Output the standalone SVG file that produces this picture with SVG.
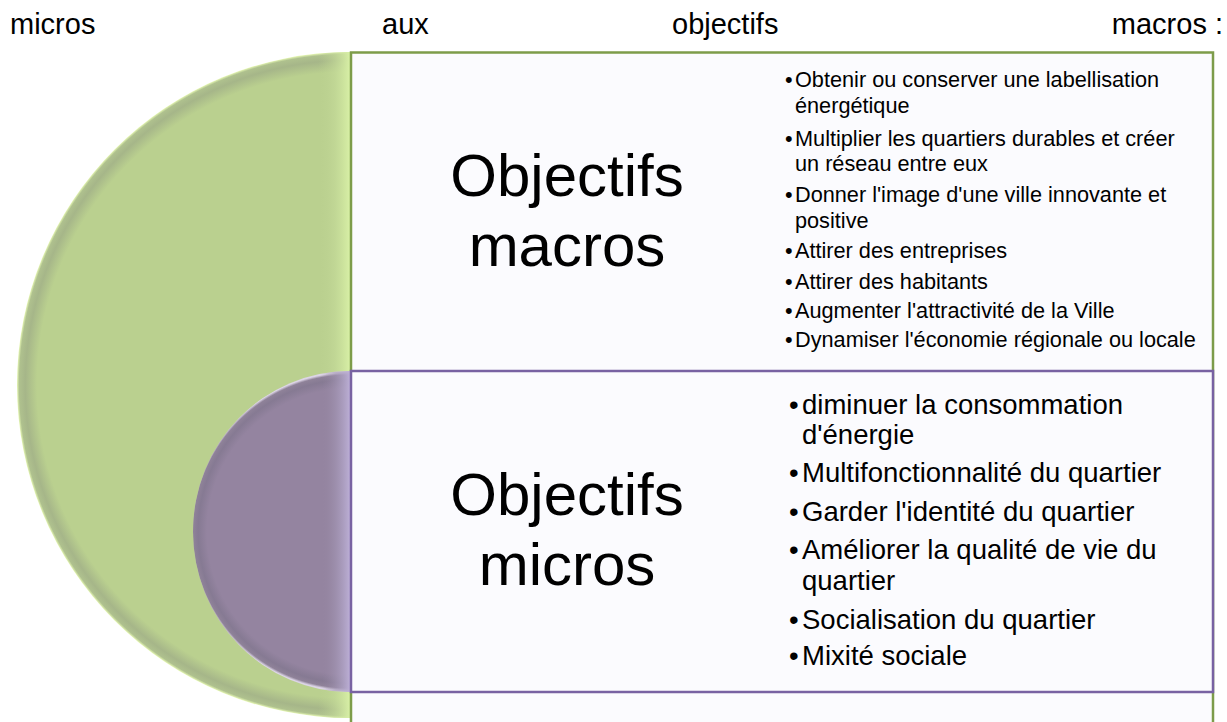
<svg xmlns="http://www.w3.org/2000/svg" width="1227" height="722" viewBox="0 0 1227 722">
<style>
.top{font-family:"Liberation Sans",Arial,sans-serif;font-size:29px;fill:#000}
.title{font-family:"Liberation Sans",Arial,sans-serif;font-size:60px;fill:#000;text-anchor:middle}
.lmac{font-family:"Liberation Sans",Arial,sans-serif;font-size:21.7px;fill:#000}
.lmic{font-family:"Liberation Sans",Arial,sans-serif;font-size:27.5px;fill:#000}
.box{fill:#fbfbfe}
</style>
<defs>
<radialGradient id="gGreen" gradientUnits="userSpaceOnUse" cx="350" cy="385" r="333">
<stop offset="0" stop-color="#bad08f"/>
<stop offset="0.94" stop-color="#bad08f"/>
<stop offset="0.975" stop-color="#a6b689"/>
<stop offset="0.993" stop-color="#afc18e"/>
<stop offset="1" stop-color="#e6f7b4"/>
</radialGradient>
<linearGradient id="gGreenEdge" gradientUnits="userSpaceOnUse" x1="318" y1="0" x2="350" y2="0">
<stop offset="0" stop-color="#bad08f" stop-opacity="0"/>
<stop offset="0.5" stop-color="#c4da98" stop-opacity="0.6"/>
<stop offset="1" stop-color="#d8f0a6"/>
</linearGradient>
<radialGradient id="gPurple" gradientUnits="userSpaceOnUse" cx="350" cy="531.5" r="159">
<stop offset="0" stop-color="#9484a0"/>
<stop offset="0.9" stop-color="#9484a0"/>
<stop offset="0.955" stop-color="#867a93"/>
<stop offset="0.985" stop-color="#8f8299"/>
<stop offset="1" stop-color="#dcd4e6"/>
</radialGradient>
<linearGradient id="gPurpleEdge" gradientUnits="userSpaceOnUse" x1="322" y1="0" x2="350" y2="0">
<stop offset="0" stop-color="#9484a0" stop-opacity="0"/>
<stop offset="0.5" stop-color="#a497b6" stop-opacity="0.6"/>
<stop offset="1" stop-color="#bcafd6"/>
</linearGradient>
<clipPath id="cGreen"><path d="M350,52 A333,333 0 0 0 350,718 Z"/></clipPath>
<clipPath id="cPurple"><path d="M350,371 A157,160.5 0 0 0 350,692 Z"/></clipPath>
</defs>
<rect width="1227" height="722" fill="#fff"/>

<g id="heading">
<text class="top" x="10" y="34">micros</text>
<text class="top" x="382" y="34">aux</text>
<text class="top" x="672" y="34">objectifs</text>
<text class="top" x="1223" y="34" text-anchor="end">macros :</text>
</g>

<g id="node-macros">
<path d="M350,52 A333,333 0 0 0 350,718 Z" fill="url(#gGreen)"/>
<rect x="318" y="40" width="32" height="690" fill="url(#gGreenEdge)" clip-path="url(#cGreen)"/>
<rect class="box" x="351" y="52.5" width="862" height="690" stroke="#7d9c4a" stroke-width="2.5"/>
<text class="title" x="567" y="196">Objectifs</text>
<text class="title" x="567" y="266">macros</text>
<text class="lmac"><tspan x="785" y="87">•</tspan><tspan x="795">Obtenir ou conserver une labellisation</tspan></text>
<text class="lmac" x="795" y="113">énergétique</text>
<text class="lmac"><tspan x="785" y="146">•</tspan><tspan x="795">Multiplier les quartiers durables et créer</tspan></text>
<text class="lmac" x="795" y="171">un réseau entre eux</text>
<text class="lmac"><tspan x="785" y="202">•</tspan><tspan x="795">Donner l'image d'une ville innovante et</tspan></text>
<text class="lmac" x="795" y="228">positive</text>
<text class="lmac"><tspan x="785" y="258">•</tspan><tspan x="795">Attirer des entreprises</tspan></text>
<text class="lmac"><tspan x="785" y="289">•</tspan><tspan x="795">Attirer des habitants</tspan></text>
<text class="lmac"><tspan x="785" y="318">•</tspan><tspan x="795">Augmenter l'attractivité de la Ville</tspan></text>
<text class="lmac"><tspan x="785" y="347">•</tspan><tspan x="795">Dynamiser l'économie régionale ou locale</tspan></text>
</g>

<g id="node-micros">
<path d="M350,371 A157,160.5 0 0 0 350,692 Z" fill="url(#gPurple)"/>
<rect x="322" y="365" width="28" height="330" fill="url(#gPurpleEdge)" clip-path="url(#cPurple)"/>
<rect class="box" x="351" y="371" width="862" height="321" stroke="#7862a2" stroke-width="2.5"/>
<text class="title" x="567" y="515">Objectifs</text>
<text class="title" x="567" y="585">micros</text>
<text class="lmic"><tspan x="789" y="414">•</tspan><tspan x="802">diminuer la consommation</tspan></text>
<text class="lmic" x="802" y="444">d'énergie</text>
<text class="lmic"><tspan x="789" y="482">•</tspan><tspan x="802">Multifonctionnalité du quartier</tspan></text>
<text class="lmic"><tspan x="789" y="521">•</tspan><tspan x="802">Garder l'identité du quartier</tspan></text>
<text class="lmic"><tspan x="789" y="559">•</tspan><tspan x="802">Améliorer la qualité de vie du</tspan></text>
<text class="lmic" x="802" y="590">quartier</text>
<text class="lmic"><tspan x="789" y="629">•</tspan><tspan x="802">Socialisation du quartier</tspan></text>
<text class="lmic"><tspan x="789" y="665">•</tspan><tspan x="802">Mixité sociale</tspan></text>
</g>

<g id="connectors"></g>
</svg>
